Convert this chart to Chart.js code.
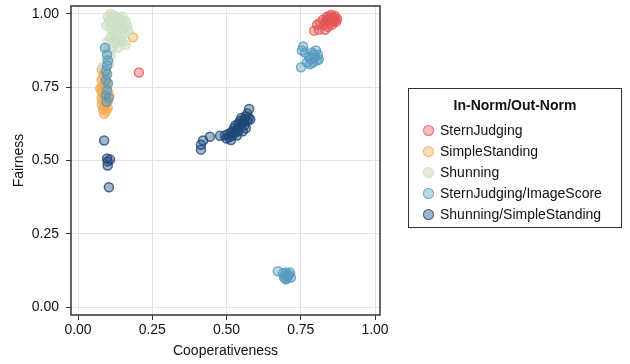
<!DOCTYPE html>
<html>
<head>
<meta charset="utf-8">
<script src="https://cdn.jsdelivr.net/npm/chart.js@4.4.1/dist/chart.umd.min.js"></script>
<style>
html,body{margin:0;padding:0;background:#fff;}
#wrap{position:relative;width:630px;height:364px;}
#legend{position:absolute;left:408px;top:88px;width:212px;height:138px;border:1px solid #333;box-sizing:content-box;font-family:"Liberation Sans",Arial,sans-serif;color:#111;}
#legend .t{font-weight:bold;font-size:14px;text-align:center;margin-top:7px;height:20px;line-height:18px;}
#legend .it{position:absolute;left:14px;font-size:14px;height:21px;line-height:21px;white-space:nowrap;}
#legend .dot{display:inline-block;width:9px;height:9px;border-radius:50%;border:1.5px solid;vertical-align:middle;margin-right:6px;position:relative;top:-1px;}
</style>
</head>
<body>
<div id="wrap">
<canvas id="c" width="630" height="364"></canvas>
<div id="legend"></div>
</div>
<script>
const legendTitle = "In-Norm/Out-Norm";
const seriesNames = ["SternJudging","SimpleStanding","Shunning","SternJudging/ImageScore","Shunning/SimpleStanding"];
const seriesColors = [[228,87,86],[245,168,78],[205,224,196],[86,154,192],[30,72,120]];
const xTicks = [0,0.25,0.5,0.75,1];
const yTicks = [0,0.25,0.5,0.75,1];

const sternJudging = [
 [0.795,0.943],[0.811,0.946],[0.832,0.946],[0.805,0.963],[0.815,0.970],[0.825,0.980],[0.838,0.990],
 [0.852,0.997],[0.865,0.993],[0.872,0.983],[0.859,0.973],[0.845,0.966],[0.835,0.973],[0.848,0.983],
 [0.862,0.983],[0.842,0.956],[0.855,0.963],[0.828,0.963],[0.869,0.973],[0.852,0.976],[0.859,0.990],
 [0.838,0.980],[0.866,0.978],[0.846,0.990],[0.856,0.986],[0.205,0.800]
];
const simpleStanding = [
 [0.080,0.810],[0.090,0.800],[0.085,0.790],[0.095,0.785],[0.080,0.775],[0.090,0.770],[0.100,0.765],
 [0.085,0.760],[0.080,0.750],[0.095,0.750],[0.090,0.740],[0.080,0.735],[0.100,0.735],[0.085,0.725],
 [0.095,0.720],[0.080,0.715],[0.090,0.710],[0.100,0.705],[0.085,0.700],[0.095,0.695],[0.080,0.690],
 [0.090,0.685],[0.100,0.680],[0.085,0.675],[0.095,0.670],[0.088,0.660],[0.105,0.720],[0.075,0.745],
 [0.185,0.920]
];
const shunning = [
 [0.100,0.990],[0.110,1.000],[0.120,0.995],[0.130,0.990],[0.140,0.985],[0.150,0.990],[0.160,0.975],
 [0.165,0.960],[0.120,0.970],[0.105,0.975],[0.095,0.960],[0.110,0.950],[0.130,0.955],[0.140,0.965],
 [0.150,0.950],[0.170,0.940],[0.160,0.935],[0.120,0.935],[0.130,0.920],[0.140,0.915],[0.110,0.920],
 [0.100,0.905],[0.125,0.900],[0.115,0.885],[0.135,0.885],[0.100,0.870],[0.110,0.860],[0.095,0.845],
 [0.105,0.830],[0.120,0.910],[0.150,0.905],[0.160,0.895],[0.090,0.880],[0.085,0.820]
];
const sternJudgingImageScore = [
 [0.754,0.875],[0.758,0.889],[0.751,0.818],[0.778,0.851],[0.788,0.868],[0.801,0.875],[0.808,0.861],
 [0.805,0.841],[0.791,0.834],[0.781,0.828],[0.798,0.851],[0.811,0.845],[0.785,0.845],[0.795,0.861],
 [0.771,0.834],[0.764,0.868],
 [0.673,0.122],[0.690,0.115],[0.700,0.118],[0.710,0.111],[0.717,0.101],[0.704,0.098],[0.694,0.101],
 [0.707,0.105],[0.697,0.108],[0.714,0.118],[0.700,0.095],
 [0.091,0.885],[0.098,0.861],[0.101,0.841],[0.098,0.824],[0.094,0.806],[0.098,0.794],[0.094,0.774],
 [0.101,0.762],[0.098,0.740],[0.094,0.723],[0.104,0.713],[0.096,0.700]
];
const shunningSimpleStanding = [
 [0.088,0.568],[0.098,0.507],[0.100,0.497],[0.108,0.503],[0.100,0.483],[0.104,0.409],
 [0.414,0.537],[0.414,0.554],[0.421,0.568],[0.444,0.581],[0.478,0.584],
 [0.495,0.585],[0.500,0.575],[0.505,0.590],[0.510,0.580],[0.515,0.595],[0.520,0.585],[0.520,0.600],
 [0.525,0.610],[0.530,0.595],[0.530,0.620],[0.535,0.605],[0.540,0.625],[0.540,0.600],[0.545,0.615],
 [0.545,0.635],[0.550,0.625],[0.550,0.645],[0.555,0.630],[0.560,0.640],[0.560,0.620],[0.565,0.650],
 [0.570,0.635],[0.570,0.660],[0.575,0.645],[0.580,0.640],[0.576,0.676],[0.565,0.610],[0.555,0.600],
 [0.535,0.585],[0.515,0.570]
];
const seriesData = [sternJudging, simpleStanding, shunning, sternJudgingImageScore, shunningSimpleStanding];

const rgba = (c,a)=>`rgba(${c[0]},${c[1]},${c[2]},${a})`;
const FONT = "'Liberation Sans', Arial, sans-serif";

const datasets = seriesNames.map((name,i)=>({
  label: name,
  data: seriesData[i].map(p=>({x:p[0],y:p[1]})),
  backgroundColor: rgba(seriesColors[i], i===2?0.6:0.4),
  borderColor: rgba(seriesColors[i], i===2?0.85:0.8),
  borderWidth: 1.5,
  pointRadius: 4.5,
  order: seriesNames.length - i
}));

const frame = {
  id:'frame',
  afterDraw(chart){
    const a = chart.chartArea, ctx = chart.ctx;
    ctx.save();
    ctx.strokeStyle = '#333';
    ctx.lineWidth = 1.5;
    ctx.strokeRect(a.left, a.top, a.right-a.left, a.bottom-a.top);
    ctx.restore();
  }
};
const noPad = s => { s.paddingTop = 0; s.paddingBottom = 0; s.paddingLeft = 0; s.paddingRight = 0; };

const chart = new Chart(document.getElementById('c'), {
  type: 'scatter',
  data: { datasets },
  options: {
    responsive: false,
    animation: false,
    layout: { padding: { top: 3, right: 250, left: 0, bottom: 0 } },
    plugins: { legend: { display: false }, tooltip: { enabled: false } },
    scales: {
      x: {
        min: -0.0236, max: 1.0168,
        afterFit(s){ s.height = 49; noPad(s); },
        afterBuildTicks(s){ s.ticks = xTicks.map(v=>({value:v})); },
        ticks: { font:{family:FONT,size:14}, color:'#111', padding:2, callback:v=>v.toFixed(2), maxRotation:0 },
        grid: { color:'#e3e3e3', lineWidth:1, tickLength:5, tickColor:'#333', tickWidth:1 },
        border: { display:false },
        title: { display:true, text:'Cooperativeness', font:{family:FONT,size:14}, color:'#111', padding:{top:2,bottom:4} }
      },
      y: {
        min: -0.027, max: 1.027,
        afterFit(s){ s.width = 71; noPad(s); },
        afterBuildTicks(s){ s.ticks = yTicks.map(v=>({value:v})); },
        ticks: { font:{family:FONT,size:14}, color:'#111', padding:7, callback:v=>v.toFixed(2) },
        grid: { color:'#e3e3e3', lineWidth:1, tickLength:5, tickColor:'#333', tickWidth:1 },
        border: { display:false },
        title: { display:true, text:'Fairness', font:{family:FONT,size:14}, color:'#111', padding:{top:11,bottom:4} }
      }
    }
  },
  plugins: [frame]
});

// HTML legend built from the chart datasets
const lg = document.getElementById('legend');
const t = document.createElement('div'); t.className='t'; t.textContent = legendTitle; lg.appendChild(t);
chart.data.datasets.forEach((ds,i)=>{
  const it = document.createElement('div'); it.className='it';
  it.style.top = (31 + i*21) + 'px';
  const d = document.createElement('span'); d.className='dot';
  d.style.background = ds.backgroundColor; d.style.borderColor = ds.borderColor;
  it.appendChild(d);
  it.appendChild(document.createTextNode(ds.label));
  lg.appendChild(it);
});
</script>
</body>
</html>
